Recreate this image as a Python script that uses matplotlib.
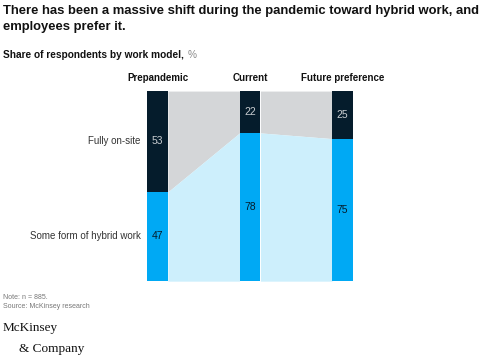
import matplotlib.pyplot as plt

plt.rcParams['font.family'] = ['Liberation Sans', 'DejaVu Sans']

# data
periods = ['Prepandemic', 'Current', 'Future preference']
onsite = [53, 22, 25]
hybrid = [47, 78, 75]
rows = ['Fully on-site', 'Some form of hybrid work']

navy = '#051c2c'
blue = '#00a9f4'
light_blue = '#cdeffc'
grey = '#d4d6d8'

fig = plt.figure(figsize=(5, 3.6), dpi=100)
ax = fig.add_axes([0.294, 0.219, 0.412, 0.528])

w = 21 / 93
x = list(range(len(periods)))

# flows between bars
for i in range(len(periods) - 1):
    xs = [x[i] + w / 2, x[i + 1] - w / 2]
    ax.fill_between(xs, [0, 0], [onsite[i], onsite[i + 1]], color=grey, lw=0)
    ax.fill_between(xs, [onsite[i], onsite[i + 1]], [100, 100], color=light_blue, lw=0)

# bars (y inverted: on-site at top)
ax.bar(x, onsite, width=w, color=navy, lw=0)
ax.bar(x, hybrid, width=w, bottom=onsite, color=blue, lw=0)

for i in x:
    ax.text(i, onsite[i] / 2, str(onsite[i]), ha='center', va='center',
            color='#c8ccd0', fontsize=7.5)
    ax.text(i, onsite[i] + hybrid[i] / 2, str(hybrid[i]), ha='center', va='center',
            color=navy, fontsize=7.5)
    ax.text(i, -4, periods[i], ha='center', va='bottom', fontsize=7,
            fontweight='bold', color='#111111')

ax.text(-w / 2 - 0.07, onsite[0] / 2, rows[0], ha='right', va='center',
        fontsize=7, color='#333333')
ax.text(-w / 2 - 0.07, onsite[0] + hybrid[0] / 2, rows[1], ha='right', va='center',
        fontsize=7, color='#333333')

ax.set_xlim(-w / 2, 2 + w / 2)
ax.set_ylim(100, 0)
ax.axis('off')

fig.text(0.006, 0.985, 'There has been a massive shift during the pandemic toward hybrid work, and\nemployees prefer it.',
         ha='left', va='top', fontsize=9.4, fontweight='bold', color='#111111', linespacing=1.35)
sub = fig.text(0.006, 0.847, 'Share of respondents by work model,', ha='left', va='center',
               fontsize=7.3, fontweight='bold', color='#111111')
fig.add_artist(plt.Annotation('%', xy=(1, 0.5), xycoords=sub, xytext=(2.5, 0),
                              textcoords='offset points', ha='left', va='center',
                              fontsize=7.3, color='#888888'))

fig.text(0.006, 0.16, 'Note: n = 885.\nSource: McKinsey research', ha='left', va='center',
         fontsize=5, color='#777777', linespacing=1.4)
fig.text(0.006, 0.09, 'McKinsey', ha='left', va='center', fontsize=9.5,
         family='Liberation Serif', color='#111111')
fig.text(0.038, 0.03, '& Company', ha='left', va='center', fontsize=9.5,
         family='Liberation Serif', color='#111111')

fig.savefig('out.png', dpi=100)
